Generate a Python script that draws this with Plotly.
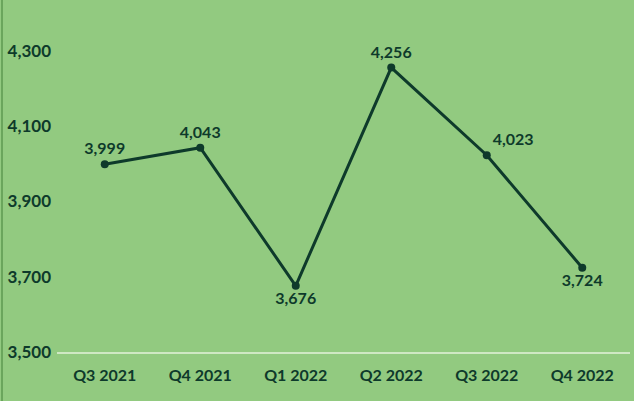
import plotly.graph_objects as go

quarters = ["Q3 2021", "Q4 2021", "Q1 2022", "Q2 2022", "Q3 2022", "Q4 2022"]
values = [3999, 4043, 3676, 4256, 4023, 3724]
label_positions = ["top center", "top center", "bottom center", "top center", "top right", "bottom center"]
y_ticks = [3500, 3700, 3900, 4100, 4300]

bg = "#92ca80"
dark = "#0e3a2b"
font_family = "Lato, 'Open Sans', sans-serif"
fs = 16

fig = go.Figure()
fig.add_trace(go.Scatter(
    x=quarters, y=values,
    mode="lines+markers+text",
    line=dict(color=dark, width=3),
    marker=dict(color=dark, size=8),
    text=[f"{v:,}" for v in values],
    textposition=label_positions,
    textfont=dict(family=font_family, size=fs, color=dark, weight="bold"),
    cliponaxis=False,
    hoverinfo="skip",
))

W, H = 634, 401
ml, mr, mt, mb = 57, 4, 51, 49
pw = W - ml - mr
ph = H - mt - mb

fig.update_layout(
    width=W, height=H,
    margin=dict(l=ml, r=mr, t=mt, b=mb, autoexpand=False),
    paper_bgcolor=bg, plot_bgcolor=bg,
    showlegend=False,
    font=dict(family=font_family, size=fs, color=dark, weight="bold"),
    xaxis=dict(
        range=[-0.5, len(quarters) - 0.5],
        showgrid=False, zeroline=False,
        showline=True, linecolor="#cfe8c4", linewidth=1.5,
        ticks="", tickfont=dict(family=font_family, size=fs, color=dark, weight="bold"),
        ticklabelstandoff=8,
    ),
    yaxis=dict(
        range=[3500, 4300], tickvals=y_ticks,
        ticktext=[f"{v:,}" for v in y_ticks],
        showgrid=False, zeroline=False, showline=False,
        ticks="", tickfont=dict(family=font_family, size=17, color=dark, weight="bold"),
        ticklabelstandoff=5,
    ),
    shapes=[dict(
        type="line", xref="paper", yref="paper",
        x0=(2 - ml) / pw, x1=(2 - ml) / pw,
        y0=-mb / ph, y1=1 + mt / ph,
        line=dict(color="#6aa55c", width=2),
    )],
)

fig.write_html("out.html", config={"displayModeBar": False},
               post_script="document.body.style.margin='0';")
